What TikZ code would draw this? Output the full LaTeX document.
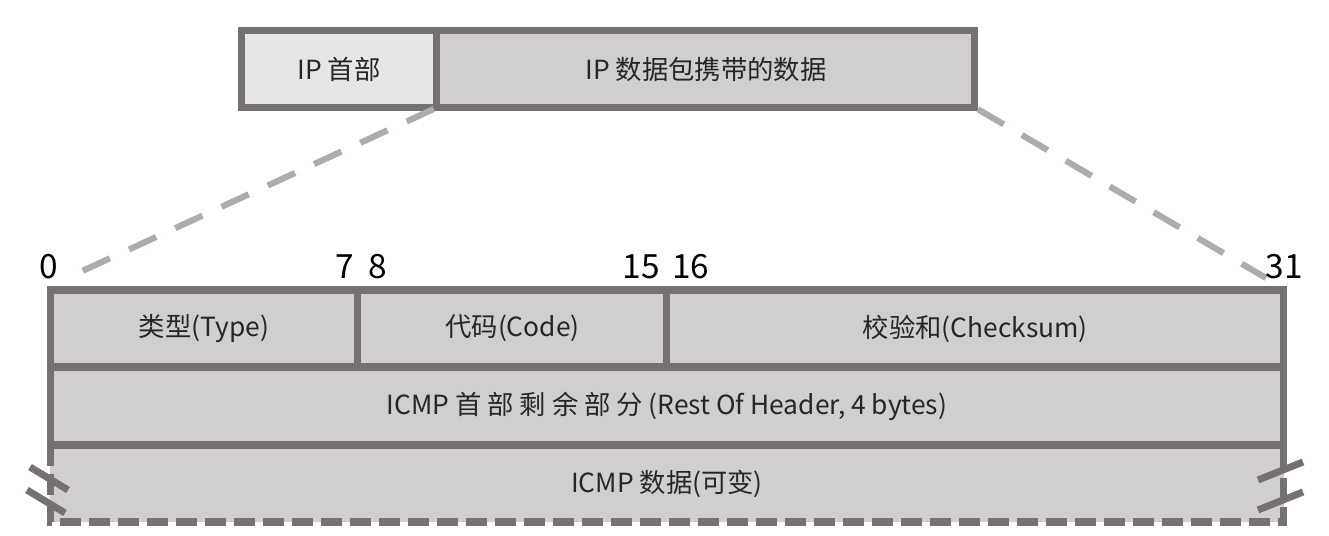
\documentclass[tikz,border=0pt]{standalone}
\usepackage{fontspec}
\setmainfont{Noto Sans CJK SC}
\usetikzlibrary{positioning,calc}
\definecolor{edgegray}{HTML}{757171}
\definecolor{cellgray}{HTML}{D0CECE}
\definecolor{lightcell}{HTML}{E7E6E6}
\definecolor{linkgray}{HTML}{AFABAB}

\begin{document}
\begin{tikzpicture}[x=0.02cm,y=-0.02cm,
  cell/.style={draw=edgegray,line width=4pt,fill=cellgray,minimum height=1.54cm,inner sep=0pt,outer sep=0pt,font=\fontsize{15pt}{17pt}\selectfont,text=black!85},
  num/.style={inner sep=0pt,anchor=base,font=\fontsize{19pt}{22pt}\selectfont},
  link/.style={draw=linkgray,line width=3.5pt,dash pattern=on 17pt off 12pt},
  gapline/.style={draw=edgegray,line width=4pt,dash pattern=on 12pt off 4.5pt},
  breakmark/.style={draw=edgegray,line width=4pt}]
\useasboundingbox (0,0) rectangle (1329,536);
% IP packet
\node[cell,fill=lightcell,minimum width=3.92cm](iph) at (339,69){IP 首部};
\node[cell,minimum width=10.76cm,right=0pt of iph](ipd){IP 数据包携带的数据};
\coordinate (c0) at (78,273);
\coordinate (c31) at (1266,278);
\draw[link,shorten <=2pt](ipd.south west)--(c0);
\draw[link,shorten <=2pt](ipd.south east)--(c31);
% ICMP message
\node[cell,draw=none,minimum width=24.68cm](data) at (667,483.5){ICMP 数据(可变)};
\draw[gapline](data.north west)--(data.south west)--(data.south east)--(data.north east);
\draw[breakmark](30,467)--(68,490) (27,490)--(65,513);
\draw[breakmark](1258,480)--(1303,462) (1258,510)--(1303,492);
\node[cell,minimum width=6.16cm](type) at (204,328.5){类型(Type)};
\node[cell,minimum width=6.18cm,right=0pt of type](code){代码(Code)};
\node[cell,minimum width=12.34cm,right=0pt of code](cksum){校验和(Checksum)};
\node[cell,minimum width=24.68cm,minimum height=1.56cm](rest) at (667,406){ICMP 首 部 剩 余 部 分 (Rest Of Header, 4 bytes)};
% bit positions
\node[num](n0) at (49,279){0};
\node[num,anchor=base east](n7) at (354,279){7};
\node[num,anchor=base west](n8) at (368,279){8};
\node[num,anchor=base east](n15) at (660,279){15};
\node[num,anchor=base west](n16) at (672,279){16};
\node[num](n31) at (1284,279){31};
\end{tikzpicture}
\end{document}
